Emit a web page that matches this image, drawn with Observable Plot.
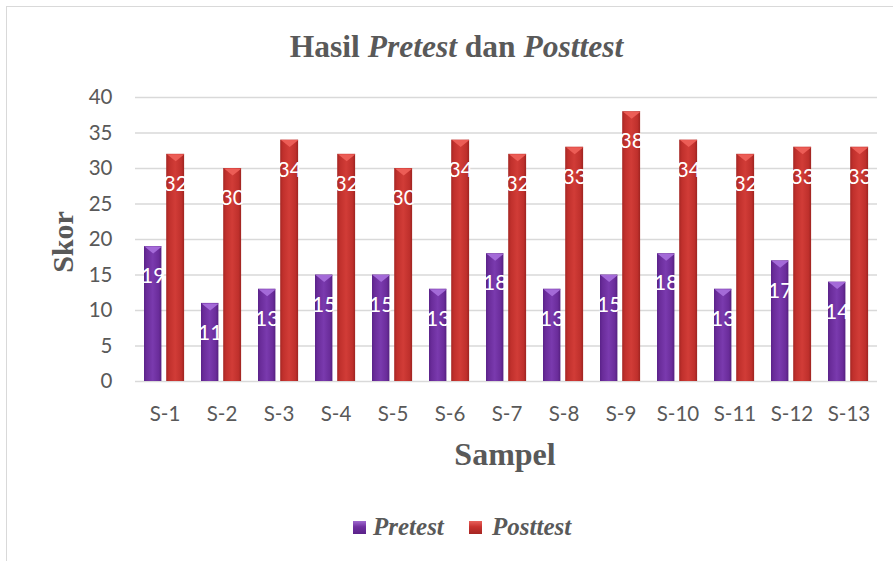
<!DOCTYPE html>
<html>
<head>
<meta charset="utf-8">
<script src="https://cdn.jsdelivr.net/npm/d3@7"></script>
<script src="https://cdn.jsdelivr.net/npm/@observablehq/plot@0.6"></script>
<style>
  html, body { margin: 0; padding: 0; background: #fff; }
  #wrap { position: relative; width: 893px; height: 561px; overflow: hidden; background: #fff; }
  #frame { position: absolute; left: 6px; top: 6px; width: 1000px; height: 1000px; border: 1px solid #d9d9d9; }
  .serif { font-family: "Liberation Serif", "Times New Roman", serif; font-weight: bold; color: #595959; white-space: nowrap; line-height: 1; position: absolute; }
  #title { font-size: 31.5px; left: 456.5px; top: 31px; transform: translateX(-50%); }
  #xlab { font-size: 32px; left: 505px; top: 438px; transform: translateX(-50%); }
  #ylab { font-size: 30px; left: 63px; top: 242px; transform: translate(-50%, -50%) rotate(-90deg); }
  .leg { font-size: 25px; font-style: italic; top: 514px; }
  .sw { position: absolute; width: 13px; height: 13px; top: 521px; }
  #chart { position: absolute; left: 0; top: 0; }
</style>
</head>
<body>
<div id="wrap">
  <div id="frame"></div>
  <div id="chart"></div>
  <div id="title" class="serif">Hasil <i>Pretest</i> dan <i>Posttest</i></div>
  <div id="ylab" class="serif">Skor</div>
  <div id="xlab" class="serif">Sampel</div>
  <div class="sw" style="left:353px;background:linear-gradient(to bottom,#a06ad0 0%,#7030a0 45%,#5a2289 100%);"></div>
  <div class="serif leg" style="left:373px;">Pretest</div>
  <div class="sw" style="left:469px;background:linear-gradient(to bottom,#e8625c 0%,#c8332f 45%,#a52623 100%);"></div>
  <div class="serif leg" style="left:492px;">Posttest</div>
</div>
<script>
const samples = ["S-1","S-2","S-3","S-4","S-5","S-6","S-7","S-8","S-9","S-10","S-11","S-12","S-13"];
const pretest = [19, 11, 13, 15, 15, 13, 18, 13, 15, 18, 13, 17, 14];
const posttest = [32, 30, 34, 32, 30, 34, 32, 33, 38, 34, 32, 33, 33];
const yTicks = [0, 5, 10, 15, 20, 25, 30, 35, 40];

const preRows = samples.map((s, i) => ({sample: s, value: pretest[i]}));
const postRows = samples.map((s, i) => ({sample: s, value: posttest[i]}));

// flat bevel triangle at the top of each bar
const bevel = {
  draw(context, size) {
    context.moveTo(-8.7, 0);
    context.lineTo(8.7, 0);
    context.lineTo(0, 7);
    context.closePath();
  }
};

const chart = Plot.plot({
  width: 893,
  height: 561,
  marginLeft: 135,
  marginRight: 16,
  marginTop: 97,
  marginBottom: 180,
  style: {fontFamily: "Lato, sans-serif", fontSize: "20.5px", color: "#595959", background: "transparent"},
  x: {domain: samples, padding: 0, tickSize: 0, tickPadding: 25, label: null},
  y: {domain: [0, 40], ticks: yTicks, tickSize: 0, tickPadding: 23, label: null},
  marks: [
    Plot.ruleY(yTicks, {stroke: "#d9d9d9", strokeWidth: 1.3}),
    Plot.barY(preRows, {x: "sample", y: "value", fill: "url(#gPre)", insetLeft: 8, insetRight: 31.6}),
    Plot.barY(postRows, {x: "sample", y: "value", fill: "url(#gPost)", insetLeft: 30.2, insetRight: 8.9}),
    Plot.dot(preRows, {x: "sample", y: "value", symbol: bevel, fill: "#a46ad8", stroke: "none", dx: -11.8}),
    Plot.dot(postRows, {x: "sample", y: "value", symbol: bevel, fill: "#ec5d56", stroke: "none", dx: 10.7}),
    Plot.text(preRows, {x: "sample", y: "value", text: d => String(d.value), fill: "white", fontSize: 21, dx: -11.8, dy: 30, lineAnchor: "middle"}),
    Plot.text(postRows, {x: "sample", y: "value", text: d => String(d.value), fill: "white", fontSize: 21, dx: 10.7, dy: 30, lineAnchor: "middle"})
  ]
});

const svg = d3.select(chart);
const defs = svg.insert("defs", ":first-child");
function grad(id, stops) {
  const g = defs.append("linearGradient").attr("id", id).attr("x1", "0").attr("x2", "1").attr("y1", "0").attr("y2", "0");
  stops.forEach(([o, c]) => g.append("stop").attr("offset", o).attr("stop-color", c));
}
grad("gPre", [["0%", "#5a2289"], ["15%", "#6a2c9a"], ["50%", "#7a3aae"], ["85%", "#6a2c9a"], ["100%", "#55207f"]]);
grad("gPost", [["0%", "#a52623"], ["15%", "#c0302c"], ["50%", "#d13c37"], ["85%", "#bf302c"], ["100%", "#9e2421"]]);

document.getElementById("chart").appendChild(chart);
</script>
</body>
</html>
